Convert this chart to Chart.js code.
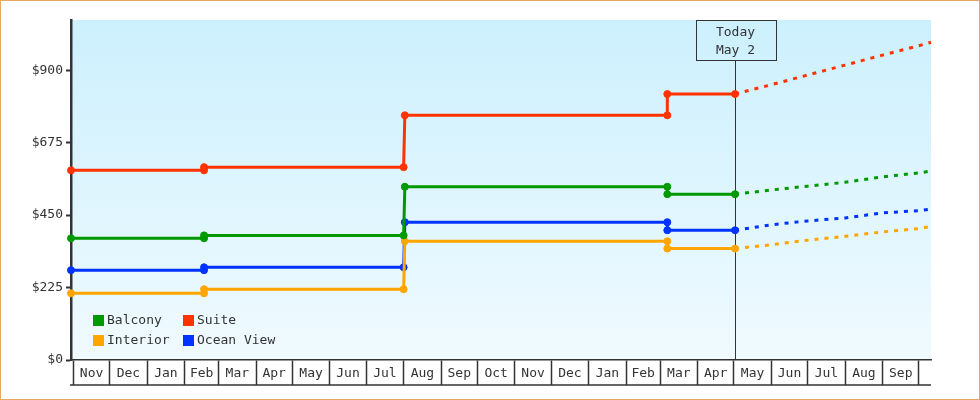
<!DOCTYPE html>
<html>
<head>
<meta charset="utf-8">
<script src="https://cdn.jsdelivr.net/npm/chart.js@4.4.0/dist/chart.umd.min.js"></script>
<style>
  html, body { margin: 0; padding: 0; background: #fff; }
  #wrap { width: 980px; height: 400px; }
</style>
</head>
<body>
<div id="wrap"><canvas id="priceChart" width="980" height="400"></canvas></div>
<script>
// price history (solid, with markers) and forecast (dashed)
const historyDates = ['2016-10-30', '2017-02-17', '2017-02-17', '2017-08-01', '2017-08-02', '2018-03-07', '2018-03-07', '2018-05-02'];
const forecastDates = ['2018-05-02', '2018-06-01', '2018-07-01', '2018-08-01', '2018-09-01', '2018-10-01', '2018-10-11'];

const balconyHistory = [378, 378, 387, 387, 538, 538, 515, 515];
const balconyForecast = [515, 528, 540, 552, 569, 581, 587];
const suiteHistory = [589, 589, 599, 599, 760, 760, 826, 826];
const suiteForecast = [826, 855, 885, 916, 947, 976, 987];
const interiorHistory = [207, 207, 220, 220, 369, 369, 346, 346];
const interiorForecast = [346, 358, 372, 384, 398, 408, 415];
const oceanHistory = [279, 279, 288, 288, 428, 428, 403, 403];
const oceanForecast = [403, 420, 432, 441, 457, 464, 469];

const monthLabels = ['Nov', 'Dec', 'Jan', 'Feb', 'Mar', 'Apr', 'May', 'Jun', 'Jul', 'Aug', 'Sep', 'Oct',
	'Nov', 'Dec', 'Jan', 'Feb', 'Mar', 'Apr', 'May', 'Jun', 'Jul', 'Aug', 'Sep'];
const yTicks = [0, 225, 450, 675, 900];

const axisStart = '2016-10-30';
const axisEnd = '2018-10-11';
const todayDate = '2018-05-02';
const todayText = ['Today', 'May 2'];

const FONT = 'DejaVu Sans Mono';
const INK = '#333';

const toDay = s => Date.parse(s) / 864e5;

// month boundaries + mid-month label positions, interleaved
const tickValues = [];
for (let i = 0; i <= monthLabels.length; i++) {
	const start = Date.UTC(2016, 10 + i, 1) / 864e5;
	tickValues.push(start);
	if (i < monthLabels.length) {
		const next = Date.UTC(2016, 11 + i, 1) / 864e5;
		tickValues.push((start + next) / 2);
	}
}

const series = [
	{ name: 'Balcony', color: '#009900', hist: balconyHistory, fc: balconyForecast },
	{ name: 'Suite', color: '#ff3300', hist: suiteHistory, fc: suiteForecast },
	{ name: 'Interior', color: '#ffa500', hist: interiorHistory, fc: interiorForecast },
	{ name: 'Ocean View', color: '#0033ff', hist: oceanHistory, fc: oceanForecast },
];

const datasets = [];
series.forEach(s => {
	datasets.push({
		label: s.name,
		data: historyDates.map((d, i) => ({ x: toDay(d), y: s.hist[i] })),
		borderColor: s.color,
		backgroundColor: s.color,
		borderWidth: 3,
		pointRadius: 3.5,
		pointBorderWidth: 1,
		pointHoverRadius: 4,
		clip: false,
	});
	datasets.push({
		label: s.name + ' forecast',
		data: forecastDates.map((d, i) => ({ x: toDay(d), y: s.fc[i] })),
		borderColor: s.color,
		borderWidth: 3,
		borderDash: [4, 6],
		pointRadius: 0,
		clip: false,
	});
});

const backdrop = {
	id: 'backdrop',
	beforeDraw: chart => {
		const { ctx, chartArea: a } = chart;
		ctx.save();
		ctx.fillStyle = '#fff';
		ctx.fillRect(0, 0, chart.width, chart.height);
		const g = ctx.createLinearGradient(0, a.top, 0, a.bottom);
		g.addColorStop(0, '#ccf0fd');
		g.addColorStop(1, '#f0faff');
		ctx.fillStyle = g;
		ctx.fillRect(a.left, a.top, a.right - a.left, a.bottom - a.top);
		ctx.restore();
	},
	afterDraw: chart => {
		const { ctx, chartArea: a } = chart;
		const xs = chart.scales.x;
		ctx.save();
		// bottom edge of the month boxes
		ctx.strokeStyle = INK;
		ctx.lineWidth = 1.5;
		ctx.beginPath();
		ctx.moveTo(a.left - 1, xs.top + 25);
		ctx.lineTo(a.right, xs.top + 25);
		ctx.stroke();
		// page frame
		ctx.strokeStyle = '#e8a865';
		ctx.lineWidth = 2;
		ctx.strokeRect(0, 0, chart.width, chart.height);
		ctx.restore();
	},
};

const todayMarker = {
	id: 'todayMarker',
	beforeDatasetsDraw: chart => {
		const { ctx, chartArea: a } = chart;
		const x = Math.round(chart.scales.x.getPixelForValue(toDay(todayDate))) + 0.5;
		const boxW = 80, boxH = 40;
		ctx.save();
		ctx.strokeStyle = INK;
		ctx.lineWidth = 1;
		ctx.beginPath();
		ctx.moveTo(x, a.top + boxH);
		ctx.lineTo(x, a.bottom);
		ctx.stroke();
		ctx.strokeRect(Math.round(x - boxW / 2) + 0.5, a.top + 0.5, boxW, boxH);
		ctx.fillStyle = INK;
		ctx.font = '13px "' + FONT + '"';
		ctx.textAlign = 'center';
		ctx.textBaseline = 'middle';
		ctx.fillText(todayText[0], x, a.top + 13);
		ctx.fillText(todayText[1], x, a.top + 31);
		ctx.restore();
	},
};

const cornerLegend = {
	id: 'cornerLegend',
	afterDatasetsDraw: chart => {
		const { ctx } = chart;
		ctx.save();
		ctx.font = '13px "' + FONT + '"';
		ctx.textBaseline = 'middle';
		ctx.textAlign = 'left';
		series.forEach((s, i) => {
			const col = i % 2, row = Math.floor(i / 2);
			const x = 93 + col * 90;
			const y = 315 + row * 20;
			ctx.fillStyle = s.color;
			ctx.fillRect(x, y, 11, 11);
			ctx.fillStyle = INK;
			ctx.fillText(s.name, x + 14, y + 6);
		});
		ctx.restore();
	},
};

new Chart(document.getElementById('priceChart'), {
	type: 'line',
	data: { datasets },
	options: {
		responsive: false,
		animation: false,
		layout: { padding: { top: 20, right: 49, left: 0, bottom: 0 } },
		elements: { line: { tension: 0 } },
		plugins: {
			legend: { display: false },
			tooltip: { enabled: false },
		},
		scales: {
			x: {
				type: 'linear',
				min: toDay(axisStart),
				max: toDay(axisEnd),
				afterBuildTicks: scale => { scale.ticks = tickValues.map(v => ({ value: v })); },
				afterFit: scale => { scale.height = 40; },
				border: { display: true, color: INK, width: 1.5 },
				grid: {
					drawOnChartArea: false,
					tickLength: 25,
					tickWidth: 1.5,
					tickColor: c => (c.index % 2 === 0 ? INK : 'rgba(0,0,0,0)'),
				},
				ticks: {
					autoSkip: false,
					maxRotation: 0,
					padding: -19,
					color: INK,
					font: { family: FONT, size: 13 },
					callback: (v, i) => (i % 2 ? monthLabels[(i - 1) / 2] : ''),
				},
			},
			y: {
				min: 0,
				max: 1056,
				afterBuildTicks: scale => { scale.ticks = yTicks.map(v => ({ value: v })); },
				afterFit: scale => { scale.width = 71; },
				border: { display: true, color: INK, width: 2.5 },
				grid: { drawOnChartArea: false, tickLength: 5, tickWidth: 2, tickColor: INK },
				ticks: {
					padding: 3,
					color: INK,
					font: { family: FONT, size: 13 },
					callback: v => '$' + v,
				},
			},
		},
	},
	plugins: [backdrop, todayMarker, cornerLegend],
});
</script>
</body>
</html>
